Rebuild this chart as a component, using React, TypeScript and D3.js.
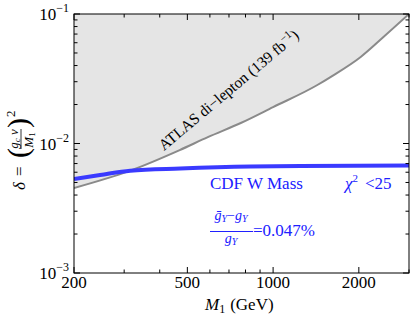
import * as d3 from "d3";

// ATLAS di-lepton exclusion boundary (M1 in GeV, delta)
const atlasMass = [200, 315, 470, 590, 770, 1000, 1430, 1590, 2030, 2440, 3000];
const atlasDelta = [0.00453, 0.00617, 0.0089, 0.0112, 0.0144, 0.0191, 0.0283, 0.0326, 0.0466, 0.0664, 0.1];

// CDF W mass preferred curve
const cdfMass = [200, 247, 315, 472, 832, 1250, 3000];
const cdfDelta = [0.00532, 0.00571, 0.00617, 0.00641, 0.00664, 0.0067, 0.00676];

const xMajor = [200, 500, 1000, 2000];
const xMinor = [300, 400, 600, 700, 800, 900, 3000];
const yMajor = [1e-3, 1e-2, 1e-1];
const yMajorLabels = ["−3", "−2", "−1"];
const yMinor = [2, 3, 4, 5, 6, 7, 8, 9].flatMap((k) => [k * 1e-3, k * 1e-2]);

const serif = "'Liberation Serif', 'Times New Roman', serif";
const blue = "#2020ff";

export default function App() {
    const width = 415;
    const height = 318;
    const left = 74, right = 409, top = 14, bottom = 273;

    const xScale = d3.scaleLog().domain([200, 3000]).range([left, right]);
    const yScale = d3.scaleLog().domain([1e-3, 1e-1]).range([bottom, top]);

    const atlas = atlasMass.map((m, i) => ({ m, d: atlasDelta[i] }));
    const cdf = cdfMass.map((m, i) => ({ m, d: cdfDelta[i] }));

    const atlasLine = d3.line<any>().x((p) => xScale(p.m)).y((p) => yScale(p.d)).curve(d3.curveMonotoneX);
    const atlasArea = d3.area<any>().x((p) => xScale(p.m)).y0(top).y1((p) => yScale(p.d)).curve(d3.curveMonotoneX);
    const cdfLine = d3.line<any>().x((p) => xScale(p.m)).y((p) => yScale(p.d)).curve(d3.curveMonotoneX);

    return (
        <svg width={width} height={height} style={{ position: "absolute", left: 0, top: 0, fontFamily: serif }}>
            <defs>
                <clipPath id="plot">
                    <rect x={left} y={top} width={right - left} height={bottom - top} />
                </clipPath>
            </defs>
            <g clipPath="url(#plot)">
                <path d={atlasArea(atlas) ?? ""} fill="#e5e5e5" />
                <path d={atlasLine(atlas) ?? ""} fill="none" stroke="#8a8a8a" strokeWidth={2} />
                <path d={cdfLine(cdf) ?? ""} fill="none" stroke="#3a3aff" strokeWidth={4} />
            </g>

            {/* ticks */}
            {[...xMajor, ...xMinor].map((t) => {
                const len = xMajor.includes(t) ? 6 : 3.5;
                const px = xScale(t);
                return (
                    <g key={`x-${t}`} stroke="black" strokeWidth={1}>
                        <line x1={px} x2={px} y1={bottom} y2={bottom - len} />
                        <line x1={px} x2={px} y1={top} y2={top + len} />
                    </g>
                );
            })}
            {[...yMajor, ...yMinor].map((t) => {
                const len = yMajor.includes(t) ? 6 : 3.5;
                const py = yScale(t);
                return (
                    <g key={`y-${t}`} stroke="black" strokeWidth={1}>
                        <line x1={left} x2={left + len} y1={py} y2={py} />
                        <line x1={right} x2={right - len} y1={py} y2={py} />
                    </g>
                );
            })}
            <rect x={left} y={top} width={right - left} height={bottom - top} fill="none" stroke="black" strokeWidth={1} />

            {/* tick labels */}
            {xMajor.map((t) => (
                <text key={`xl-${t}`} x={xScale(t)} y={288} textAnchor="middle" fontSize={17}>{t}</text>
            ))}
            {yMajor.map((t, i) => (
                <text key={`yl-${t}`} x={69} y={yScale(t) + 6} textAnchor="end" fontSize={17}>
                    10<tspan dy={-8} fontSize={12}>{yMajorLabels[i]}</tspan>
                </text>
            ))}

            {/* x title */}
            <text x={205} y={310} fontSize={17}>
                <tspan fontStyle="italic">M</tspan>
                <tspan fontSize={12} dy={3}>1</tspan>
                <tspan dy={-3} dx={5}>(GeV)</tspan>
            </text>

            {/* y title */}
            <g transform="translate(25,190) rotate(-90)" fontSize={17}>
                <text x={0} y={0} fontStyle="italic">δ</text>
                <text x={14} y={0}>=</text>
                <text x={32} y={3} fontSize={30}>(</text>
                <text x={51} y={-7} textAnchor="middle" fontSize={13} fontStyle="italic">
                    g<tspan fontSize={9} dy={2}>c</tspan><tspan dy={-2}>{"\u00a0v"}</tspan>
                </text>
                <line x1={41} x2={61} y1={-4} y2={-4} stroke="black" strokeWidth={0.8} />
                <text x={50} y={8} textAnchor="middle" fontSize={13} fontStyle="italic">
                    M<tspan fontSize={9} dy={1.5} fontStyle="normal">1</tspan>
                </text>
                <text x={62} y={3} fontSize={30}>)</text>
                <text x={73} y={-10} fontSize={13}>2</text>
            </g>

            {/* annotations */}
            <text transform="translate(164,151) rotate(-40)" fontSize={15.5}>
                ATLAS di−lepton (139 fb<tspan dy={-6} fontSize={11}>−1</tspan><tspan dy={6}>)</tspan>
            </text>
            <text x={210} y={189} fontSize={17} fill={blue}>CDF W Mass</text>
            <text x={345} y={189} fontSize={17} fill={blue}>
                <tspan fontStyle="italic">χ</tspan>
                <tspan dy={-7} fontSize={11}>2</tspan>
                <tspan dy={7} dx={7}>{"<25"}</tspan>
            </text>

            <g fill={blue}>
                <text x={231} y={220} textAnchor="middle" fontSize={14} fontStyle="italic">
                    ḡ<tspan fontSize={10} dy={2}>Y</tspan><tspan dy={-2} fontStyle="normal">−</tspan>g<tspan fontSize={10} dy={2}>Y</tspan>
                </text>
                <line x1={210} x2={253} y1={231.5} y2={231.5} stroke={blue} strokeWidth={1} />
                <text x={231} y={243} textAnchor="middle" fontSize={14} fontStyle="italic">
                    g<tspan fontSize={10} dy={2}>Y</tspan>
                </text>
                <text x={253} y={236} fontSize={17}>=0.047%</text>
            </g>
        </svg>
    );
}
